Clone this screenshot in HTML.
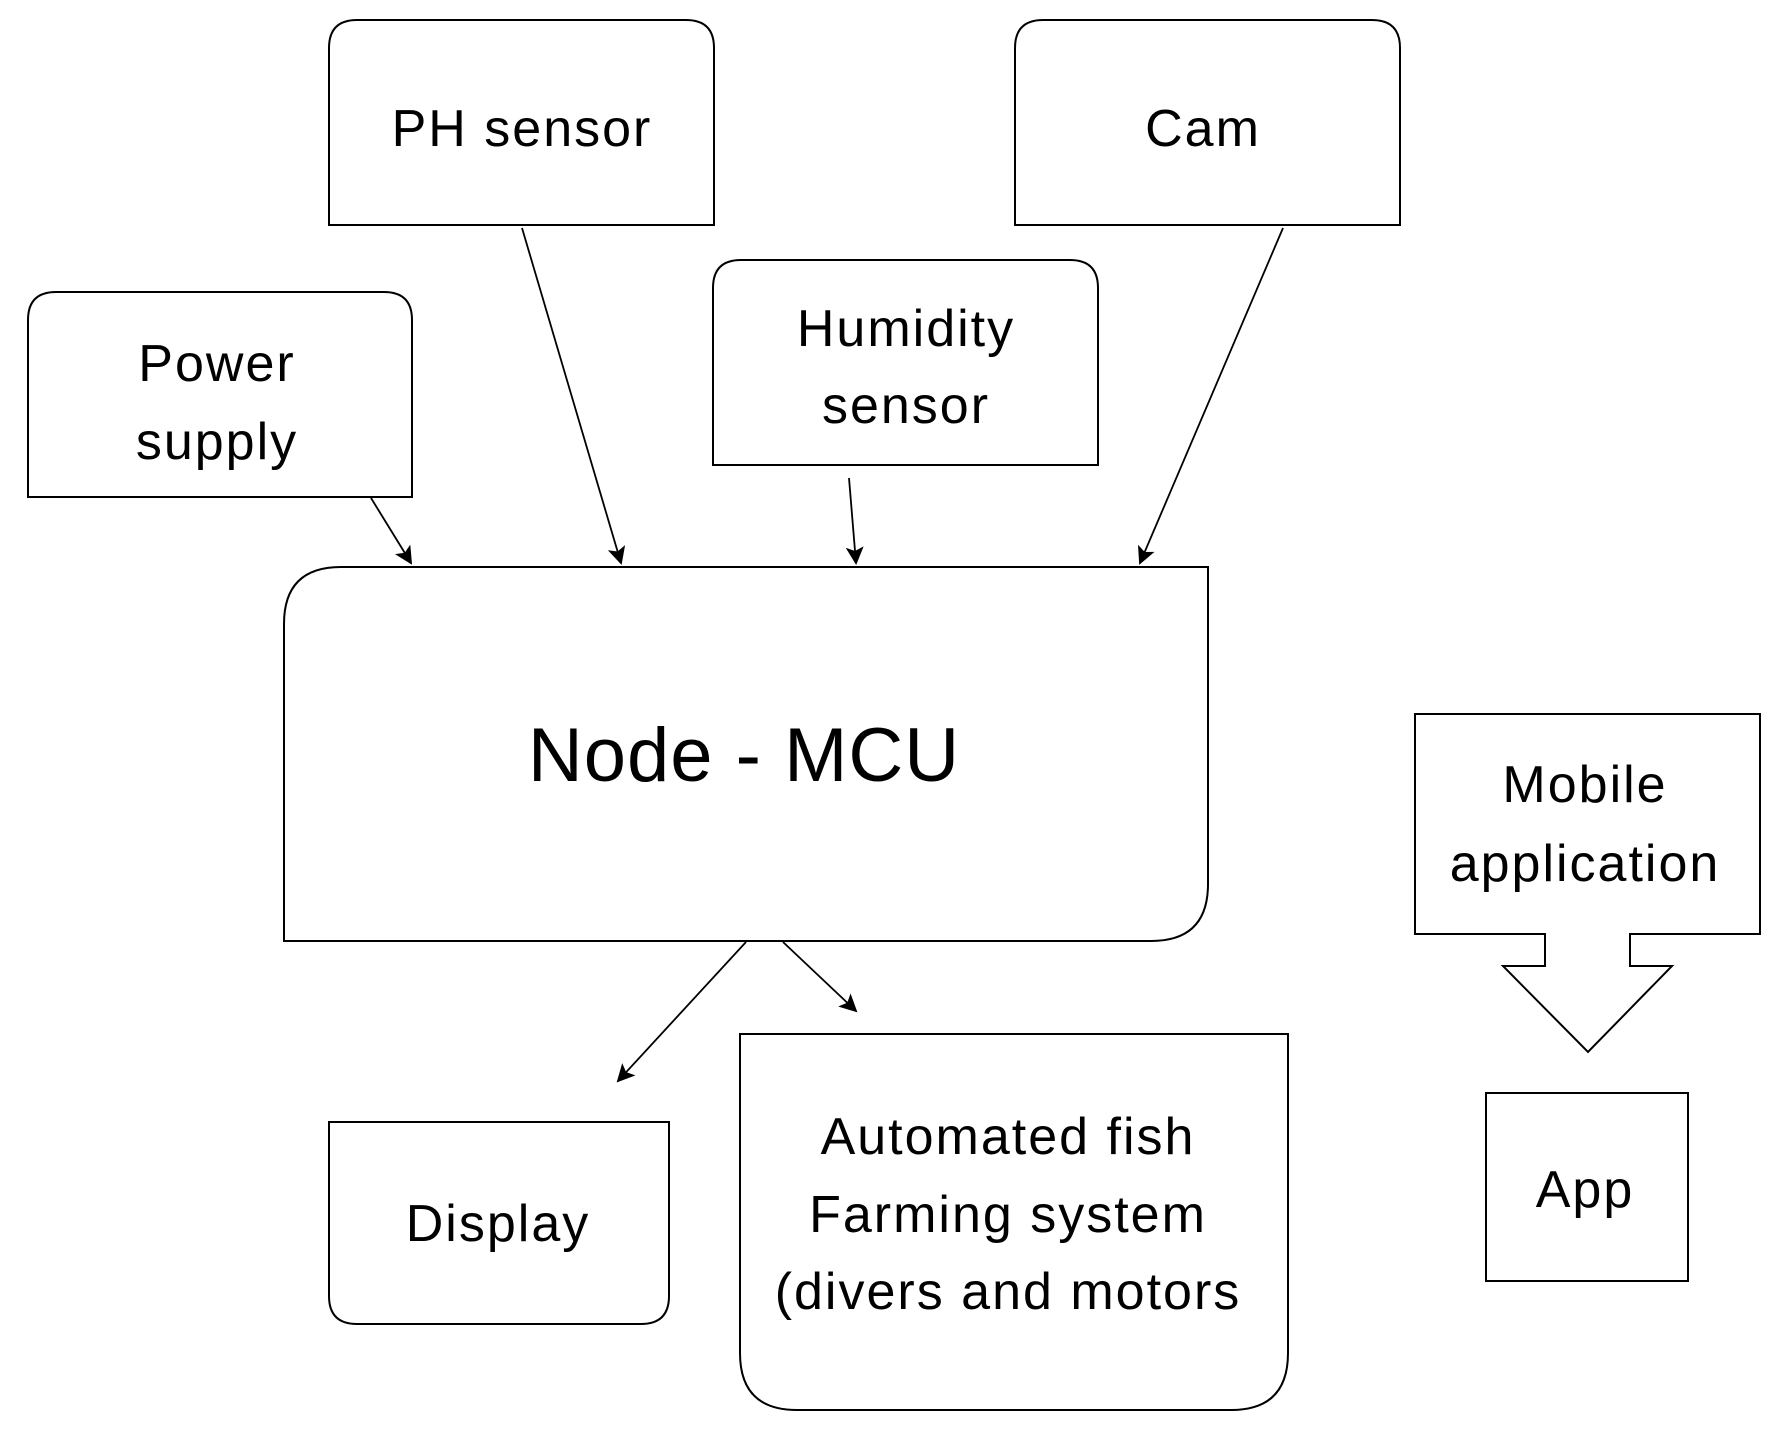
<!DOCTYPE html>
<html><head><meta charset="utf-8"><style>body{margin:0;background:#fff}svg{display:block}</style></head>
<body>
<svg width="1775" height="1430" viewBox="0 0 1775 1430" xmlns="http://www.w3.org/2000/svg">
<defs>
<marker id="b" markerWidth="18" markerHeight="18" refX="16" refY="9" orient="auto" markerUnits="userSpaceOnUse"><path d="M0,0 L18,9 L0,18 L4,9 z" fill="#000"/></marker></defs>
<g fill="#fff" stroke="#000" stroke-width="2">
<path d="M329,225 V48 Q329,20 357,20 H686 Q714,20 714,48 V225 Z"/>
<path d="M1015,225 V48 Q1015,20 1043,20 H1372 Q1400,20 1400,48 V225 Z"/>
<path d="M28,497 V320 Q28,292 56,292 H384 Q412,292 412,320 V497 Z"/>
<path d="M713,465 V288 Q713,260 741,260 H1070 Q1098,260 1098,288 V465 Z"/>
<path d="M284,941 V624 Q284,567 341,567 H1208 V884 Q1208,941 1151,941 Z"/>
<path d="M329,1122 H669 V1296 Q669,1324 641,1324 H357 Q329,1324 329,1296 Z"/>
<path d="M740,1034 H1288 V1353 Q1288,1410 1231,1410 H797 Q740,1410 740,1353 Z"/>
<path d="M1415,714 H1760 V934 H1630 V966 H1672 L1588,1052 L1503,966 H1545 V934 H1415 Z"/>
<rect x="1486" y="1093" width="202" height="188"/>
</g>
<g stroke="#000" stroke-width="1.8">
<line x1="371" y1="498" x2="411" y2="563" marker-end="url(#b)"/>
<line x1="522" y1="228" x2="621" y2="563" marker-end="url(#b)"/>
<line x1="849" y1="478" x2="856" y2="563" marker-end="url(#b)"/>
<line x1="1283" y1="228" x2="1140" y2="563" marker-end="url(#b)"/>
<line x1="746" y1="942" x2="618" y2="1081" marker-end="url(#b)"/>
<line x1="783" y1="942" x2="856" y2="1011" marker-end="url(#b)"/>
</g>
<g font-family="'Liberation Sans', sans-serif" font-size="52" letter-spacing="2" text-anchor="middle" fill="#000">
<text x="522" y="146">PH sensor</text>
<text x="1203" y="146">Cam</text>
<text x="217" y="381">Power</text>
<text x="217" y="459">supply</text>
<text x="906" y="346">Humidity</text>
<text x="906" y="423">sensor</text>
<text x="744" y="781" font-size="76" letter-spacing="1">Node - MCU</text>
<text x="1585" y="802">Mobile</text>
<text x="1585" y="881">application</text>
<text x="1585" y="1207">App</text>
<text x="498" y="1241">Display</text>
<text x="1008" y="1154">Automated fish</text>
<text x="1008" y="1232">Farming system</text>
<text x="1008" y="1309">(divers and motors</text>
</g>
</svg>
</body></html>
